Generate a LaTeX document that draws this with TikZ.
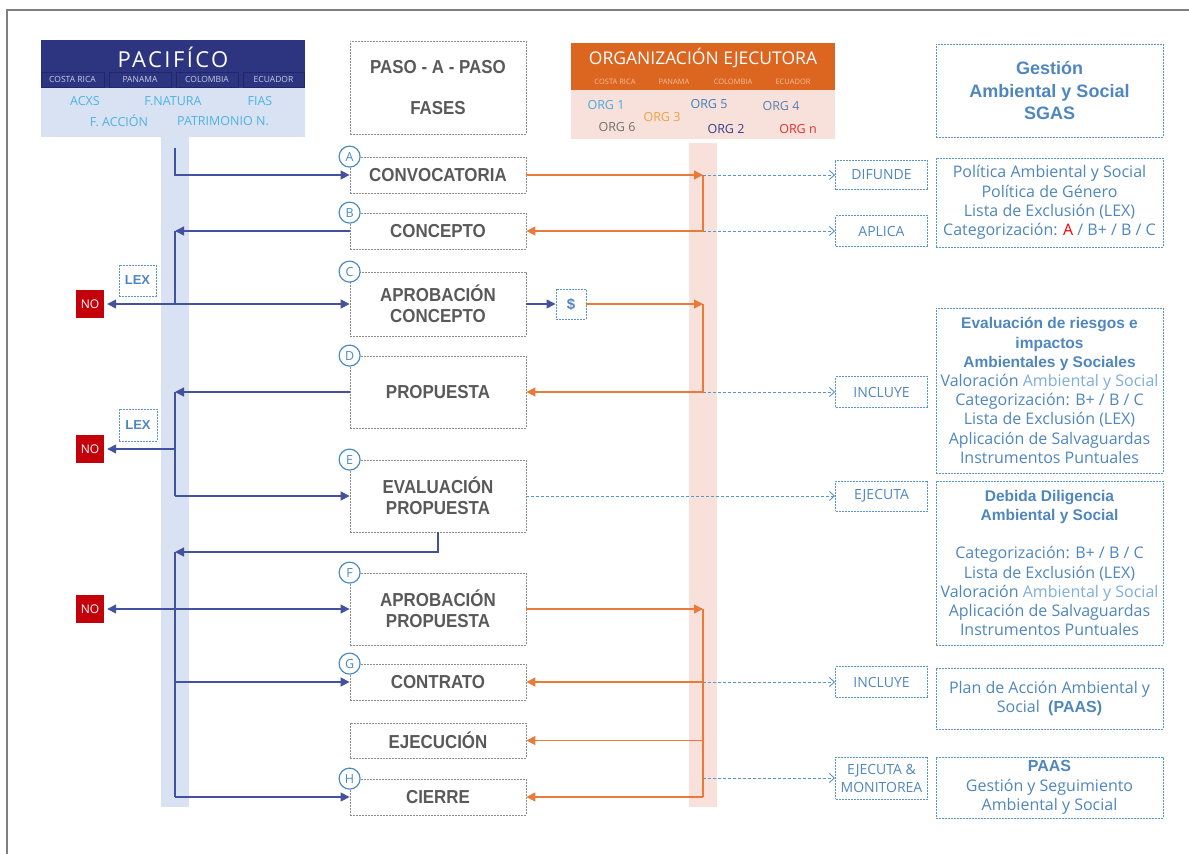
\documentclass[tikz,border=0pt]{standalone}
\usepackage{fontspec}
\setmainfont{Open Sans}
\newfontfamily\stepfont[FakeStretch=0.9]{Liberation Sans}
\newfontfamily\arialfont{Liberation Sans}
\usetikzlibrary{arrows.meta,calc}
\definecolor{navy}{HTML}{2E3580}
\definecolor{navyline}{HTML}{20276A}
\definecolor{pacband}{HTML}{D9E2F3}
\definecolor{conblue}{HTML}{44519F}
\definecolor{orghead}{HTML}{DC6520}
\definecolor{orgband}{HTML}{F8E1DB}
\definecolor{conorange}{HTML}{E97A3A}
\definecolor{txtblue}{HTML}{4F86BE}
\definecolor{lighttxt}{HTML}{7FADDA}
\definecolor{lightcyan}{HTML}{4DB2E6}
\definecolor{dashblue}{HTML}{5B95C8}
\definecolor{stepgray}{HTML}{595959}
\definecolor{boxgray}{HTML}{8C8C8C}
\definecolor{nored}{HTML}{C4000B}
\definecolor{framegray}{HTML}{7F7F7F}
\definecolor{pacctry}{HTML}{C8CCE6}
\definecolor{orgctry}{HTML}{F5C09C}
\definecolor{circblue}{HTML}{4A8AC4}
\definecolor{orgA}{HTML}{4AA8E0}
\definecolor{orgB}{HTML}{3F7FC0}
\definecolor{orgC}{HTML}{5A80B0}
\definecolor{orgD}{HTML}{F0A040}
\definecolor{orgE}{HTML}{707070}
\definecolor{orgF}{HTML}{3A3D8A}
\definecolor{orgG}{HTML}{E03030}
\newcommand{\hb}[1]{{\arialfont\bfseries #1}}
\tikzset{
  stepbox/.style={draw=boxgray, dash pattern=on 2pt off 1pt, line width=0.8pt, minimum width=176pt, inner sep=0pt, align=center, text=stepgray, font=\stepfont\bfseries\fontsize{18.8}{21}\selectfont},
  letter/.style={circle, draw=circblue, line width=1.2pt, fill=white, minimum size=21pt, inner sep=0pt, text=circblue, font=\fontsize{12.5}{13}\selectfont},
  bluebox/.style={draw=dashblue, dash pattern=on 2pt off 1pt, line width=0.9pt, inner sep=0pt, align=center, text=txtblue},
  labelbox/.style={bluebox, minimum width=92pt, font=\fontsize{14}{18}\selectfont},
  infobox/.style={bluebox, minimum width=227pt, font=\fontsize{16}{19.2}\selectfont},
  nobox/.style={fill=nored, minimum size=28pt, inner sep=0pt, text=white, font=\fontsize{12}{13}\selectfont},
  lexbox/.style={bluebox, font=\arialfont\bfseries\fontsize{13}{14}\selectfont},
  blueline/.style={draw=conblue, line width=1.3pt},
  bluearr/.style={blueline, -{Triangle[length=9pt,width=9pt]}},
  orline/.style={draw=conorange, line width=1.3pt},
  orarr/.style={orline, -{Triangle[length=9pt,width=9pt]}},
  dasharr/.style={draw=dashblue, line width=0.9pt, dash pattern=on 3pt off 2pt, -{Straight Barb[length=5pt,width=9pt]}},
  pacc/.style={draw=navyline, line width=0.8pt, minimum height=15pt, inner sep=0pt, text=pacctry, font=\fontsize{8.5}{9}\selectfont},
  orgc/.style={text=orgctry, inner sep=0pt, font=\fontsize{7.5}{8}\selectfont},
  orgn/.style={inner sep=0pt, font=\fontsize{12.5}{14}\selectfont},
  pacorg/.style={inner sep=0pt, text=lightcyan, font=\fontsize{12.5}{13}\selectfont}
}
\begin{document}
\begin{tikzpicture}[x=1pt,y=-1pt]
\useasboundingbox (0,0) rectangle (1189,854);
% frame
\draw[framegray, line width=2pt] (7,854) -- (7,10) -- (1189,10);
% bands
\fill[pacband] (161,137) rectangle (189,807);
\fill[orgband] (689,143) rectangle (717,807);
% PACIFICO header
\fill[navy] (41,40) rectangle (305,88);
\fill[pacband] (41,88) rectangle (305,137);
\node[text=white, inner sep=0pt, font={\fontsize{22}{24}\selectfont\addfontfeature{LetterSpace=11}}] (pactitle) at (173,57) {PACIFÍCO};
\node[pacc, minimum width=63pt] (pcr) at (72.5,79.5) {COSTA RICA};
\node[pacc, minimum width=62pt] (ppa) at (140,79.5) {PANAMA};
\node[pacc, minimum width=62pt] (pco) at (207,79.5) {COLOMBIA};
\node[pacc, minimum width=61pt] (pec) at (273.5,79.5) {ECUADOR};
\node[pacorg] (acxs) at (85,101) {ACXS};
\node[pacorg] (fnat) at (173,101) {F.NATURA};
\node[pacorg] (fias) at (260,101) {FIAS};
\node[pacorg] (facc) at (119,121) {F. ACCIÓN};
\node[pacorg] (patr) at (223,121) {PATRIMONIO N.};
% ORG header
\fill[orghead] (571,43) rectangle (835,90);
\fill[orgband] (571,90) rectangle (835,139);
\node[text=white, inner sep=0pt, font=\fontsize{17.5}{19}\selectfont] (orgtitle) at (703,58) {ORGANIZACIÓN EJECUTORA};
\node[orgc] (ocr) at (615,82) {COSTA RICA};
\node[orgc] (opa) at (674,82) {PANAMA};
\node[orgc] (oco) at (733,82) {COLOMBIA};
\node[orgc] (oec) at (793,82) {ECUADOR};
\node[orgn, text=orgA] (org1) at (606,105) {ORG 1};
\node[orgn, text=orgB] (org5) at (709,104) {ORG 5};
\node[orgn, text=orgC] (org4) at (781,106) {ORG 4};
\node[orgn, text=orgD] (org3) at (662,117) {ORG 3};
\node[orgn, text=orgE] (org6) at (617,127) {ORG 6};
\node[orgn, text=orgF] (org2) at (726,129) {ORG 2};
\node[orgn, text=orgG] (orgn) at (798,129) {ORG n};
% step boxes
\node[stepbox, minimum height=93pt] (paso) at (438,87.5) {PASO - A - PASO\\[20pt]FASES};
\node[stepbox, minimum height=36pt] (A) at (438,175) {CONVOCATORIA};
\node[stepbox, minimum height=36pt] (B) at (438,231) {CONCEPTO};
\node[stepbox, minimum height=64pt] (C) at (438,304) {APROBACIÓN\\CONCEPTO};
\node[stepbox, minimum height=72pt] (D) at (438,392) {PROPUESTA};
\node[stepbox, minimum height=72pt] (E) at (438,496) {EVALUACIÓN\\PROPUESTA};
\node[stepbox, minimum height=72pt] (F) at (438,609) {APROBACIÓN\\PROPUESTA};
\node[stepbox, minimum height=36pt] (G) at (438,682) {CONTRATO};
\node[stepbox, minimum height=35pt] (EJ) at (438,740.5) {EJECUCIÓN};
\node[stepbox, minimum height=36pt] (H) at (438,797) {CIERRE};
\node[letter] (cA) at (A.north west) {A};
\node[letter] (cB) at (B.north west) {B};
\node[letter] (cC) at (C.north west) {C};
\node[letter] (cD) at (D.north west) {D};
\node[letter] (cE) at (E.north west) {E};
\node[letter] (cF) at (F.north west) {F};
\node[letter] (cG) at (G.north west) {G};
\node[letter] (cH) at (H.north west) {H};
% NO and LEX
\node[nobox] (no1) at (90,304) {NO};
\node[nobox] (no2) at (90,449) {NO};
\node[nobox] (no3) at (90,609) {NO};
\node[lexbox, minimum width=37pt, minimum height=31pt] (lex1) at (137.5,280.5) {LEX};
\node[lexbox, minimum width=38pt, minimum height=32pt] (lex2) at (138,425) {LEX};
\node[bluebox, minimum width=30pt, minimum height=30pt, font=\arialfont\bfseries\fontsize{15}{16}\selectfont] (dollar) at (571,304) {\$};
% label boxes
\node[labelbox, minimum height=29pt] (dif) at (881.5,175) {DIFUNDE};
\node[labelbox, minimum height=31pt] (apl) at (881.5,231) {APLICA};
\node[labelbox, minimum height=31pt] (inc1) at (881.5,392) {INCLUYE};
\node[labelbox, minimum height=30pt] (eje) at (881.5,496) {EJECUTA};
\node[labelbox, minimum height=31pt] (inc2) at (881.5,682) {INCLUYE};
\node[labelbox, minimum height=42pt] (eym) at (881.5,778) {EJECUTA \&\\MONITOREA};
% info boxes
\node[infobox, minimum height=93pt, font=\arialfont\bfseries\fontsize{18}{22.5}\selectfont] (sgas) at (1049.5,90.5) {Gestión\\Ambiental y Social\\SGAS};
\node[infobox, minimum height=89pt] (pol) at (1049.5,202.5) {Política Ambiental y Social\\Política de Género\\Lista de Exclusión (LEX)\\Categorización: \textcolor{red}{A} / B+ / B / C};
\node[infobox, minimum height=165pt] (eva) at (1049.5,390.5) {{\fontsize{15.5}{19.2}\selectfont\hb{Evaluación de riesgos e}}\\{\fontsize{15.5}{19.2}\selectfont\hb{impactos}}\\{\fontsize{15.5}{19.2}\selectfont\hb{Ambientales y Sociales}}\\Valoración \textcolor{lighttxt}{Ambiental y Social}\\Categorización: B+ / B / C\\Lista de Exclusión (LEX)\\Aplicación de Salvaguardas\\Instrumentos Puntuales};
\node[infobox, minimum height=164pt] (dd) at (1049.5,563) {{\fontsize{15.5}{19.2}\selectfont\hb{Debida Diligencia}}\\{\fontsize{15.5}{19.2}\selectfont\hb{Ambiental y Social}}\\[19.2pt]Categorización: B+ / B / C\\Lista de Exclusión (LEX)\\Valoración \textcolor{lighttxt}{Ambiental y Social}\\Aplicación de Salvaguardas\\Instrumentos Puntuales};
\node[infobox, minimum height=61pt] (paas) at (1049.5,698.5) {Plan de Acción Ambiental y\\Social\ \ \hb{(PAAS)}};
\node[infobox, minimum height=61pt] (gest) at (1049.5,787.5) {\hb{PAAS}\\Gestión y Seguimiento\\Ambiental y Social};
% junction coordinates
\coordinate (bTop) at (175,148);
\coordinate (jB) at (175,231);
\coordinate (jC) at (175,304);
\coordinate (jD) at (175,392);
\coordinate (jN2) at (175,449);
\coordinate (jE) at (175,496);
\coordinate (jE2) at (175,552);
\coordinate (jF) at (175,609);
\coordinate (jG) at (175,682);
\coordinate (jH) at (175,797);
\coordinate (oA) at (703,175);
\coordinate (oB) at (703,231);
\coordinate (oC) at (703,304);
\coordinate (oD) at (703,392);
\coordinate (oF) at (703,609);
\coordinate (oG) at (703,682);
\coordinate (oEJ) at (703,740.5);
\coordinate (oEM) at (703,778);
\coordinate (oH) at (703,797);
% blue connectors
\draw[bluearr] (bTop) |- (A.west);
\draw[bluearr] (B.west) -- (jB);
\draw[blueline] (jB) -- (jC);
\draw[bluearr, shorten >=3pt] (jC) -- (no1.east);
\draw[bluearr] (jC) -- (C.west);
\draw[bluearr] (D.west) -- (jD);
\draw[blueline] (jD) -- (jE);
\draw[bluearr, shorten >=3pt] (jN2) -- (no2.east);
\draw[bluearr] (jE) -- (E.west);
\draw[bluearr] (E.south) |- (jE2);
\draw[blueline] (jE2) -- (jH);
\draw[bluearr, shorten >=3pt] (jF) -- (no3.east);
\draw[bluearr] (jF) -- (F.west);
\draw[bluearr] (jG) -- (G.west);
\draw[bluearr] (jH) -- (H.west);
\draw[bluearr] (C.east) -- (dollar.west);
% orange connectors
\draw[orarr] (A.east) -- (oA);
\draw[orline] (oA) -- (oB);
\draw[orarr] (oB) -- (B.east);
\draw[orarr] (dollar.east) -- (oC);
\draw[orline] (oC) -- (oD);
\draw[orarr] (oD) -- (D.east);
\draw[orarr] (F.east) -- (oF);
\draw[orline] (oF) -- (oH);
\draw[orarr] (oG) -- (G.east);
\draw[orarr] (oEJ) -- (EJ.east);
\draw[orarr] (oH) -- (H.east);
% dashed connectors
\draw[dasharr] (oA) -- (dif.west);
\draw[dasharr] (oB) -- (apl.west);
\draw[dasharr] (oD) -- (inc1.west);
\draw[dasharr] (E.east) -- (eje.west);
\draw[dasharr] (oG) -- (inc2.west);
\draw[dasharr] (oEM) -- (eym.west);
\end{tikzpicture}
\end{document}
